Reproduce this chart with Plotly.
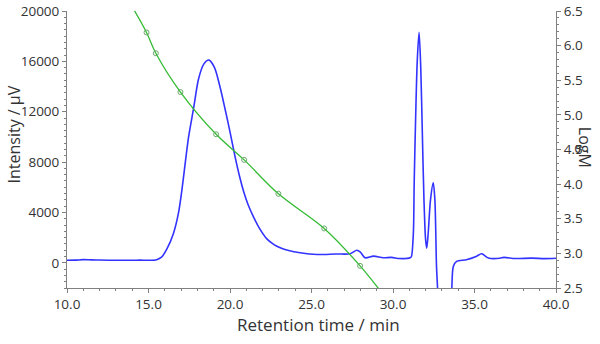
import plotly.graph_objects as go

# ---- Data ----
# Chromatogram (retention time in min, intensity in µV)
rt = [10.0, 10.5, 11.0, 11.5, 12.0, 13.0, 14.0, 14.5, 15.0, 15.5, 15.8, 16.13, 16.54,
      16.84, 17.05, 17.26, 17.46, 17.77, 18.07, 18.4, 18.72, 19.05, 19.4, 19.7, 20.0,
      20.3, 20.6, 20.85, 21.1, 21.44, 21.8, 22.26, 22.7, 23.08, 23.6, 24.3, 25.33,
      26.5, 27.37, 27.78, 28.0, 28.29, 28.8, 29.4, 29.9, 30.4, 31.05, 31.13, 31.25,
      31.3, 31.39, 31.49, 31.6, 31.7, 31.8, 31.9, 32.0, 32.07, 32.16, 32.3, 32.47,
      32.57, 32.67, 32.75, 32.8, 33.5, 33.6, 33.7, 33.9, 34.5, 35.1, 35.44, 35.85,
      36.55, 36.8, 37.5, 38.5, 39.3, 40.0]
intensity = [200, 210, 250, 230, 220, 200, 200, 210, 200, 250, 450, 1100, 2370,
             3960, 5800, 8000, 10000, 12300, 14600, 15800, 16100, 15500, 13900, 12200, 10400,
             8500, 6800, 5600, 4650, 3650, 2750, 1900, 1450, 1200, 980, 800, 660,
             700, 720, 1000, 850, 400, 530, 400, 430, 340, 400, 500, 2400,
             6350, 11600, 16100, 18300, 15600, 10300, 5000, 1830, 1170, 2370, 5000, 6350,
             5000, -300, -2500, -6000, -6000, -2500, -290, 110, 250, 510, 720, 380,
             360, 430, 340, 370, 330, 360]

# Calibration curve (retention time in min, LogM)
cal_rt = [14.1, 14.88, 15.45, 16.96, 19.15, 20.87, 22.97, 25.78, 27.98, 29.35]
cal_logm = [6.52, 6.19, 5.89, 5.33, 4.72, 4.35, 3.86, 3.36, 2.82, 2.42]
# Calibration standards (markers)
std_rt = [14.88, 15.45, 16.96, 19.15, 20.87, 22.97, 25.78, 27.98]
std_logm = [6.19, 5.89, 5.33, 4.72, 4.35, 3.86, 3.36, 2.82]

# Axis ticks
x_ticks = [10, 15, 20, 25, 30, 35, 40]
y_ticks = [0, 4000, 8000, 12000, 16000, 20000]
y2_ticks = [2.5, 3.0, 3.5, 4.0, 4.5, 5.0, 5.5, 6.0, 6.5]

FONT = "Open Sans"
AXIS_COL = "#808080"
TXT_COL = "#333333"

fig = go.Figure()
fig.add_trace(go.Scatter(x=rt, y=intensity, mode="lines",
                         line=dict(color="#3333ff", width=1.6, shape="spline", smoothing=0.8),
                         showlegend=False, hoverinfo="skip"))
fig.add_trace(go.Scatter(x=cal_rt, y=cal_logm, mode="lines", yaxis="y2",
                         line=dict(color="#33bb33", width=1.3, shape="spline"),
                         showlegend=False, hoverinfo="skip"))
fig.add_trace(go.Scatter(x=std_rt, y=std_logm, mode="markers", yaxis="y2",
                         marker=dict(symbol="circle-open", size=5, color="#6aa86a",
                                     line=dict(width=1)),
                         showlegend=False, hoverinfo="skip", cliponaxis=False))

axis_common = dict(showline=True, linecolor=AXIS_COL, linewidth=1, ticks="outside",
                   ticklen=4, tickcolor=AXIS_COL, tickwidth=1, showgrid=False,
                   zeroline=False, automargin=False, ticklabeloverflow="allow",
                   tickfont=dict(family=FONT, size=13.5, color=TXT_COL))

fig.update_layout(
    width=600, height=344,
    margin=dict(l=67, r=44, t=11, b=56, autoexpand=False),
    paper_bgcolor="white", plot_bgcolor="white",
    font=dict(family=FONT, color=TXT_COL),
    xaxis=dict(range=[10, 40], tickvals=x_ticks, tickformat=".1f",
               minor=dict(dtick=1, ticks="outside", ticklen=2, tickcolor=AXIS_COL),
               **axis_common),
    yaxis=dict(range=[-2000, 20000], tickvals=y_ticks, tickformat="d",
               minor=dict(dtick=500, ticks="outside", ticklen=2, tickcolor=AXIS_COL),
               **axis_common),
    yaxis2=dict(range=[2.5, 6.5], tickvals=y2_ticks, tickformat=".1f", overlaying="y",
                side="right",
                minor=dict(dtick=0.1, ticks="outside", ticklen=2, tickcolor=AXIS_COL),
                **axis_common),
    annotations=[
        dict(text="Intensity / µV", xref="paper", yref="paper", x=-0.1074, y=0.556,
             textangle=-90, showarrow=False, xanchor="center", yanchor="middle",
             font=dict(family=FONT, size=16, color=TXT_COL)),
        dict(text="Retention time / min", xref="paper", yref="paper", x=0.515, y=-0.1325,
             showarrow=False, xanchor="center", yanchor="middle",
             font=dict(family=FONT, size=17, color=TXT_COL)),
        dict(text="LogM", xref="paper", yref="paper", x=1.059, y=0.5065,
             textangle=90, showarrow=False, xanchor="center", yanchor="middle",
             font=dict(family=FONT, size=16, color=TXT_COL)),
    ],
)

# remove the browser's default 8px body margin so the figure fills the window
fig.write_html("out.html", config={"displayModeBar": False},
               post_script="document.body.style.margin='0';")
